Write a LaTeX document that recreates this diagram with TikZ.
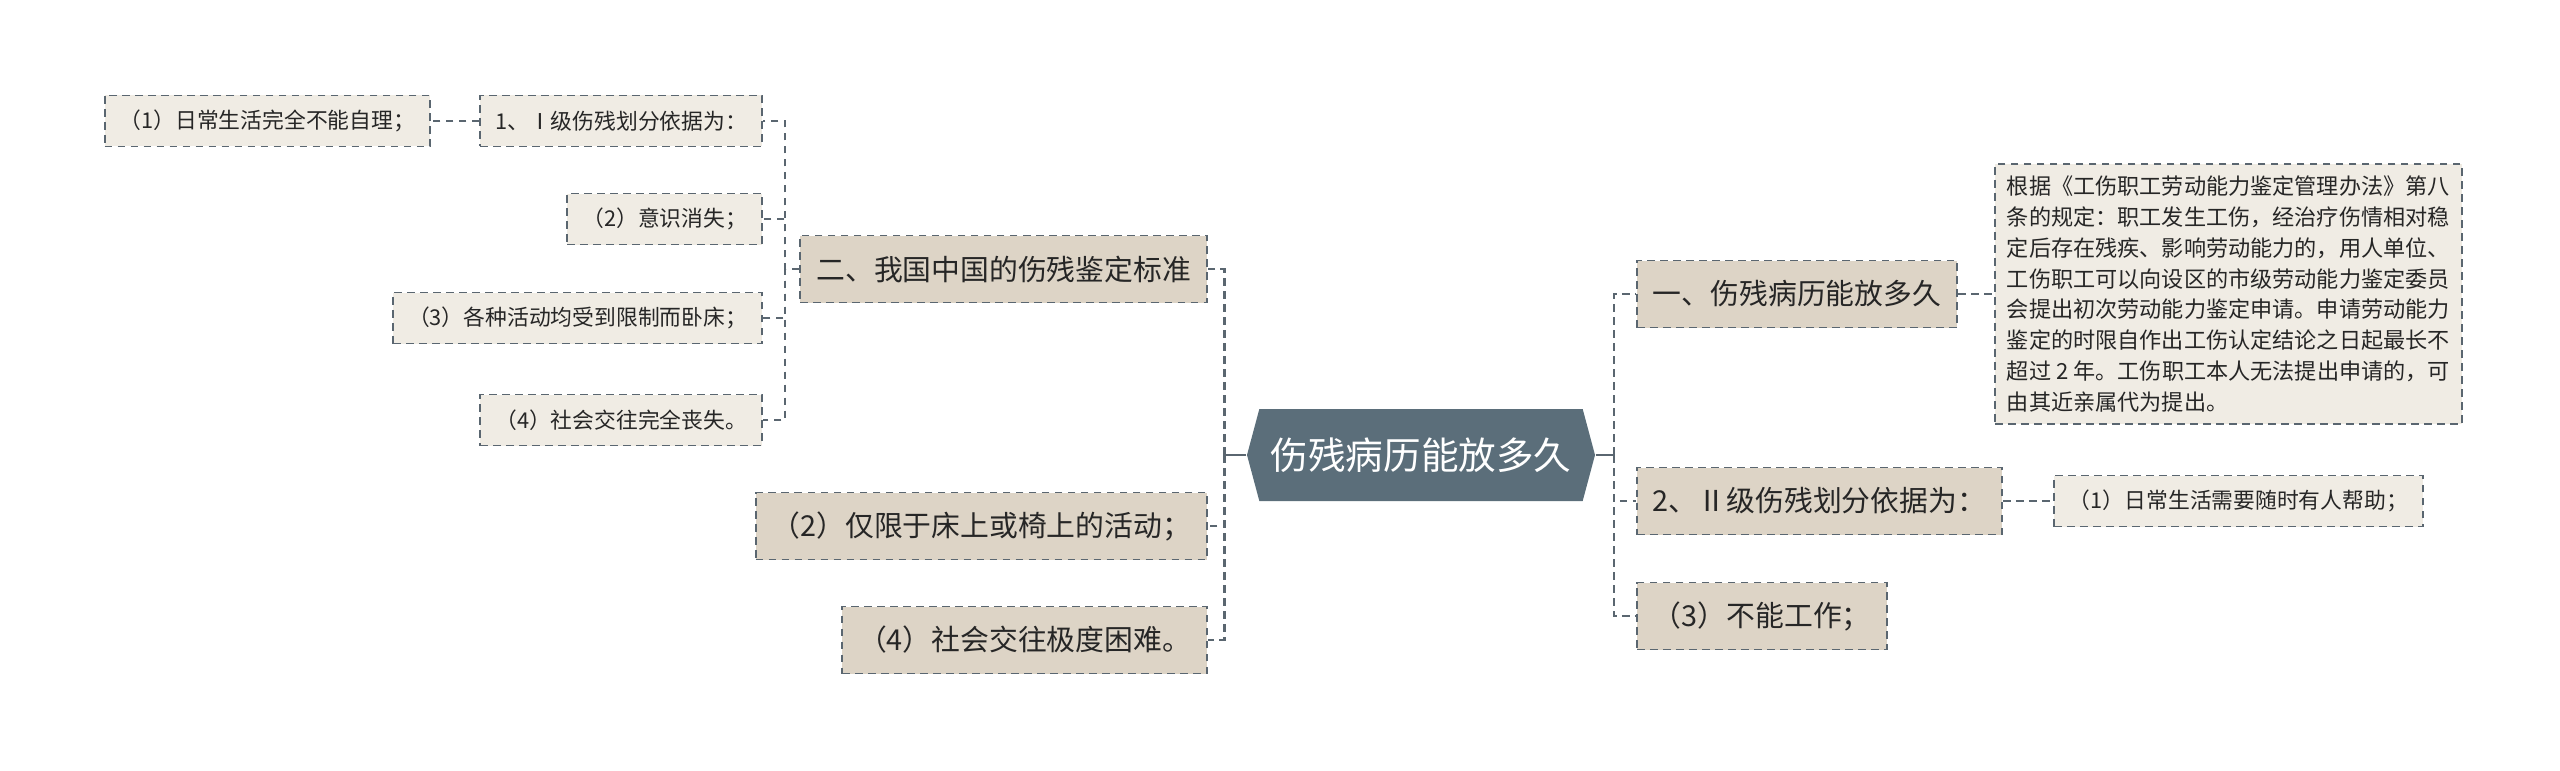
\documentclass[tikz,border=0pt]{standalone}
\usepackage{fontspec}
\setmainfont{Noto Sans CJK SC}
\usetikzlibrary{shapes.symbols}
\definecolor{rootfill}{HTML}{5B6E7A}
\definecolor{mainfill}{HTML}{DDD4C6}
\definecolor{subfill}{HTML}{F0ECE4}
\definecolor{linecol}{HTML}{5A6670}

\begin{document}
\begin{tikzpicture}[
    root/.style={signal, signal to=west and east, signal pointer angle=150, fill=rootfill, text=white,
        minimum width=3.48cm, minimum height=0.92cm, inner sep=0pt, font=\fontsize{10.7pt}{12pt}\selectfont},
    mainbox/.style={draw=linecol, dash pattern=on 2.2pt off 1.5pt, line width=0.55pt, fill=mainfill, text=black!85,
        minimum height=0.67cm, inner xsep=0.16cm, font=\fontsize{8.2pt}{10pt}\selectfont},
    subbox/.style={mainbox, fill=subfill, minimum height=0.51cm, inner xsep=0.15cm, font=\fontsize{6.2pt}{8pt}\selectfont},
    link/.style={draw=linecol, line width=0.7pt, dash pattern=on 2.2pt off 1.5pt},
    stub/.style={draw=linecol, line width=0.7pt}
]
    \useasboundingbox (0,0) rectangle (25.6,7.7);

    % 中心主题
    \node[root] (root) at (14.21,3.15) {伤残病历能放多久};

    % 左侧分支
    \node[mainbox, anchor=east] (n2) at (12.08,5.01) {二、我国中国的伤残鉴定标准};
    \node[subbox, anchor=east] (n2a) at (7.63,6.49) {1、Ⅰ级伤残划分依据为：};
    \node[subbox, anchor=east] (n2a1) at (4.31,6.49) {（1）日常生活完全不能自理；};
    \node[subbox, anchor=east] (n2b) at (7.63,5.51) {（2）意识消失；};
    \node[subbox, anchor=east] (n2c) at (7.63,4.52) {（3）各种活动均受到限制而卧床；};
    \node[subbox, anchor=east] (n2d) at (7.63,3.50) {（4）社会交往完全丧失。};
    \node[mainbox, anchor=east] (n3) at (12.08,2.44) {（2）仅限于床上或椅上的活动；};
    \node[mainbox, anchor=east] (n4) at (12.08,1.30) {（4）社会交往极度困难。};

    % 右侧分支
    \node[mainbox, anchor=west] (n1) at (16.36,4.76) {一、伤残病历能放多久};
    \node[subbox, anchor=west, align=left, inner sep=0.12cm, font=\fontsize{6.3pt}{8.75pt}\selectfont] (n1a) at (19.94,4.76) {%
        根据《工伤职工劳动能力鉴定管理办法》第八\\
        条的规定：职工发生工伤，经治疗伤情相对稳\\
        定后存在残疾、影响劳动能力的，用人单位、\\
        工伤职工可以向设区的市级劳动能力鉴定委员\\
        会提出初次劳动能力鉴定申请。申请劳动能力\\
        鉴定的时限自作出工伤认定结论之日起最长不\\
        超过 2 年。工伤职工本人无法提出申请的，可\\
        由其近亲属代为提出。};
    \node[mainbox, anchor=west] (n5) at (16.36,2.69) {2、Ⅱ级伤残划分依据为：};
    \node[subbox, anchor=west] (n5a) at (20.53,2.69) {（1）日常生活需要随时有人帮助；};
    \node[mainbox, anchor=west] (n6) at (16.36,1.54) {（3）不能工作；};

    % 连线
    \draw[stub] (root.west) -- ++(-0.22,0) coordinate (lj);
    \draw[link] (lj) |- (n2.east);
    \draw[link] (lj) |- (n3.east);
    \draw[link] (lj) |- (n4.east);
    \coordinate (lj2) at (7.85,5.01);
    \draw[link] (n2.west) -- (lj2) |- (n2a.east);
    \draw[link] (n2.west) -- (lj2) |- (n2b.east);
    \draw[link] (n2.west) -- (lj2) |- (n2c.east);
    \draw[link] (n2.west) -- (lj2) |- (n2d.east);
    \draw[link] (n2a.west) -- (n2a1.east);

    \draw[stub] (root.east) -- ++(0.18,0) coordinate (rj);
    \draw[link] (rj) |- (n1.west);
    \draw[link] (rj) |- (n5.west);
    \draw[link] (rj) |- (n6.west);
    \draw[link] (n1.east) -- (n1a.west);
    \draw[link] (n5.east) -- (n5a.west);
\end{tikzpicture}
\end{document}
